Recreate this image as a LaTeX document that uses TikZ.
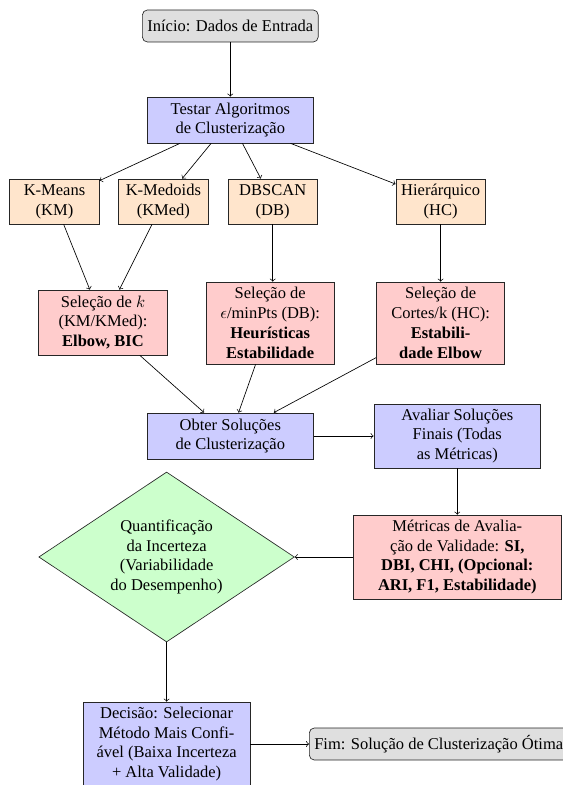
\documentclass[tikz,border=0pt]{standalone}
\usepackage{fontspec}
\setmainfont{Liberation Serif}
\usetikzlibrary{shapes.geometric}
\begin{document}
\begin{tikzpicture}[x=0.606pt,y=-0.606pt,
  base/.style={draw=black!85, align=center, inner sep=2pt, font=\fontsize{10}{12}\selectfont},
  term/.style={base, rounded corners=3pt, fill=gray!25, minimum height=19.4pt, inner sep=3pt},
  proc/.style={base, fill=blue!20, minimum width=101pt},
  algo/.style={base, fill=orange!20, minimum width=54.2pt, minimum height=27.3pt},
  sel/.style={base, fill=red!20, minimum width=77.8pt},
  dec/.style={base, diamond, aspect=1.5, fill=green!20, minimum width=154.9pt, minimum height=103pt, inner sep=0pt},
  arr/.style={->, draw=black}]
\useasboundingbox (0,0) rectangle (563,785);

\node[term] (start) at (230.3,26) {Início: Dados de Entrada};
\node[proc, minimum height=27.9pt] (test) at (230.3,120) {Testar Algoritmos\\de Clusterização};

\node[algo] (km) at (54.5,201.5) {K-Means\\(KM)};
\node[algo] (kmed) at (163.4,201.5) {K-Medoids\\(KMed)};
\node[algo] (db) at (272.7,201.5) {DBSCAN\\(DB)};
\node[algo] (hc) at (440.6,201.5) {Hierárquico\\(HC)};

\node[sel, minimum height=39.4pt] (selk) at (103,322.5) {Seleção de $k$\\(KM/KMed):\\\textbf{Elbow, BIC}};
\node[sel, minimum height=49.7pt] (seleps) at (270.2,323) {Seleção de\\$\epsilon$/minPts (DB):\\\textbf{Heurísticas}\\\textbf{Estabilidade}};
\node[sel, minimum height=49.7pt] (selhc) at (440.6,323) {Seleção de\\Cortes/k (HC):\\\textbf{Estabili-}\\\textbf{dade Elbow}};

\node[proc, minimum height=27.9pt] (obter) at (230.3,436) {Obter Soluções\\de Clusterização};
\node[proc, minimum height=38.8pt] (aval) at (457.3,436) {Avaliar Soluções\\Finais (Todas\\as Métricas)};

\node[sel, minimum width=125.5pt, minimum height=50.9pt] (metr) at (457.3,557) {Métricas de Avalia-\\ção de Validade: \textbf{SI,}\\\textbf{DBI, CHI, (Opcional:}\\\textbf{ARI, F1, Estabilidade)}};
\node[dec] (unc) at (166.6,557) {Quantificação\\da Incerteza\\(Variabilidade\\do Desempenho)};

\node[proc, minimum height=50.9pt] (decis) at (166.6,744) {Decisão: Selecionar\\Método Mais Confi-\\ável (Baixa Incerteza\\+ Alta Validade)};
\node[term, anchor=west] (fim) at (309,744) {Fim: Solução de Clusterização Ótima};

\draw[arr] (start) -- (test);
\draw[arr] (test) -- (km);
\draw[arr] (test) -- (kmed);
\draw[arr] (test) -- (db);
\draw[arr] (test) -- (hc);
\draw[arr] (km) -- (selk);
\draw[arr] (kmed) -- (selk);
\draw[arr] (db.south) -- (db.south |- seleps.north);
\draw[arr] (hc) -- (selhc);
\draw[arr] (selk) -- (obter);
\draw[arr] (seleps) -- (obter);
\draw[arr] (selhc) -- (obter);
\draw[arr] (obter) -- (aval);
\draw[arr] (aval) -- (metr);
\draw[arr] (metr) -- (unc);
\draw[arr] (unc) -- (decis);
\draw[arr] (decis) -- (fim);
\end{tikzpicture}
\end{document}
